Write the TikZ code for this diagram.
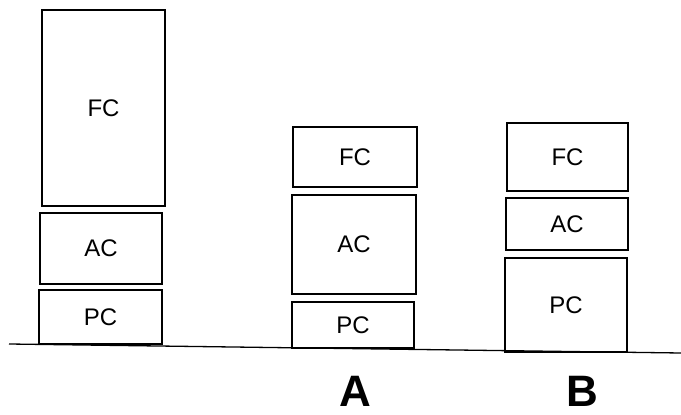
\documentclass[tikz,border=0pt]{standalone}
\usepackage{fontspec}
\setmainfont{Liberation Sans}
\begin{document}
\begin{tikzpicture}[x=1pt,y=-1pt,
  blk/.style={draw=black, line width=1.3pt, rectangle, inner sep=0pt, outer sep=0pt,
    font=\fontsize{24}{28}\selectfont},
  lbl/.style={inner sep=0pt, font=\bfseries\fontsize{44}{48}\selectfont}]
\useasboundingbox (0,0) rectangle (681,415);
% left stack
\node[blk, minimum width=123pt, minimum height=196pt] (lfc) at (103.5,108) {FC};
\node[blk, minimum width=122pt, minimum height=71pt] (lac) at (101,248.5) {AC};
\node[blk, minimum width=123pt, minimum height=54pt] (lpc) at (100.5,317) {PC};
% stack A
\node[blk, minimum width=124pt, minimum height=60pt] (afc) at (355,157) {FC};
\node[blk, minimum width=124pt, minimum height=99pt] (aac) at (354,244.5) {AC};
\node[blk, minimum width=122pt, minimum height=46pt] (apc) at (353,325) {PC};
% stack B
\node[blk, minimum width=121pt, minimum height=68pt] (bfc) at (567.5,157) {FC};
\node[blk, minimum width=122pt, minimum height=52pt] (bac) at (567,224) {AC};
\node[blk, minimum width=122pt, minimum height=94pt] (bpc) at (566,305) {PC};
% ground line
\coordinate (g1) at (9,344);
\coordinate (g2) at (681,353);
\draw[line width=1.3pt] (g1) -- (g2);
% labels
\node[lbl] (la) at (355,391) {A};
\node[lbl] (lb) at (582,391) {B};
\end{tikzpicture}
\end{document}
